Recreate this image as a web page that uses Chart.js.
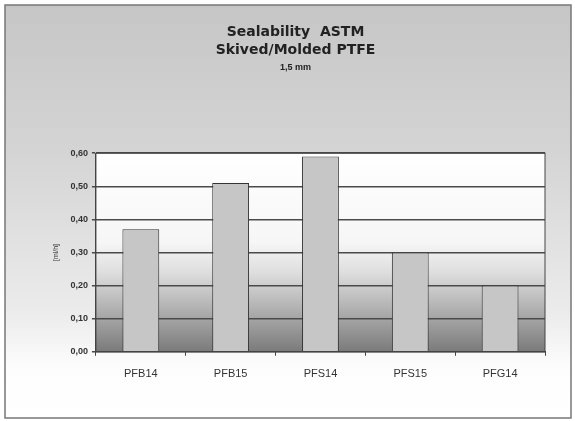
<!DOCTYPE html>
<html>
<head>
<meta charset="utf-8">
<script src="https://cdn.jsdelivr.net/npm/chart.js@4.4.1/dist/chart.umd.min.js"></script>
<style>
  html, body { margin: 0; padding: 0; background: #fff; }
  #wrap { width: 575px; height: 421px; }
</style>
</head>
<body>
<div id="wrap"><canvas id="c" width="575" height="421"></canvas></div>
<script>
// Werte
const categories = ['PFB14', 'PFB15', 'PFS14', 'PFS15', 'PFG14'];
const leakRates = [0.37, 0.51, 0.59, 0.30, 0.20];
const yTicks = [0, 0.1, 0.2, 0.3, 0.4, 0.5, 0.6];
const titleLines = ['Sealability  ASTM', 'Skived/Molded PTFE'];
const subTitle = '1,5 mm';
const yLabel = '[ml/h]';

// Hintergrund: grauer Rahmen aussen, Verlauf im Plotbereich
const backdrop = {
    id: 'backdrop',
    beforeDraw(chart) {
        const ctx = chart.ctx;
        const a = chart.chartArea;
        ctx.save();
        let g = ctx.createLinearGradient(0, 5, 0, 418);
        g.addColorStop(0, '#c6c6c6');
        g.addColorStop(0.35, '#d4d4d4');
        g.addColorStop(0.75, '#ececec');
        g.addColorStop(0.88, '#fdfdfd');
        g.addColorStop(1, '#ffffff');
        ctx.fillStyle = g;
        ctx.fillRect(5, 5, 566, 413);
        ctx.strokeStyle = '#777';
        ctx.lineWidth = 1.5;
        ctx.strokeRect(5, 5, 566, 413);

        g = ctx.createLinearGradient(0, a.top, 0, a.bottom);
        g.addColorStop(0, '#ffffff');
        g.addColorStop(0.45, '#f6f6f6');
        g.addColorStop(0.6, '#dedede');
        g.addColorStop(0.78, '#b2b2b2');
        g.addColorStop(0.9, '#949494');
        g.addColorStop(1, '#7a7a7a');
        ctx.fillStyle = g;
        ctx.fillRect(a.left, a.top, a.right - a.left, a.bottom - a.top);
        ctx.restore();
    },
    afterDraw(chart) {
        const ctx = chart.ctx;
        const a = chart.chartArea;
        ctx.save();
        ctx.strokeStyle = '#444';
        ctx.lineWidth = 1;
        ctx.strokeRect(a.left, a.top, a.right - a.left, a.bottom - a.top);
        ctx.restore();
    }
};

new Chart(document.getElementById('c'), {
    type: 'bar',
    data: {
        labels: categories,
        datasets: [{
            data: leakRates,
            backgroundColor: '#c6c6c6',
            borderColor: '#333',
            borderWidth: 1,
            barPercentage: 0.82,
            categoryPercentage: 0.5
        }]
    },
    options: {
        responsive: false,
        animation: false,
        layout: { padding: { left: 46, right: 30, top: 0, bottom: 28 } },
        plugins: {
            legend: { display: false },
            tooltip: { enabled: false },
            title: {
                display: true,
                text: titleLines,
                color: '#222',
                font: { family: 'DejaVu Sans', size: 14, weight: 'bold', lineHeight: 1.3 },
                padding: { top: 23, bottom: 3 }
            },
            subtitle: {
                display: true,
                text: subTitle,
                color: '#222',
                font: { family: 'Liberation Sans, Arial', size: 9, weight: 'bold' },
                padding: { top: 0, bottom: 80 }
            }
        },
        scales: {
            x: {
                grid: { drawOnChartArea: false, offset: true, color: '#444', tickLength: 4 },
                border: { color: '#444' },
                ticks: {
                    color: '#333',
                    padding: 12,
                    font: { family: 'Liberation Sans, Arial', size: 11 }
                }
            },
            y: {
                min: 0,
                max: 0.6,
                afterBuildTicks(axis) { axis.ticks = yTicks.map(v => ({ value: v })); },
                grid: { color: '#4a4a4a', lineWidth: 1.5, tickLength: 4 },
                border: { color: '#444' },
                title: {
                    display: true,
                    text: yLabel,
                    color: '#333',
                    font: { family: 'Liberation Sans, Arial', size: 7 },
                    padding: 6
                },
                ticks: {
                    color: '#333',
                    padding: 4,
                    font: { family: 'Liberation Sans, Arial', size: 9, weight: 'bold' },
                    callback: v => v.toFixed(2).replace('.', ',')
                }
            }
        }
    },
    plugins: [backdrop]
});
</script>
</body>
</html>
